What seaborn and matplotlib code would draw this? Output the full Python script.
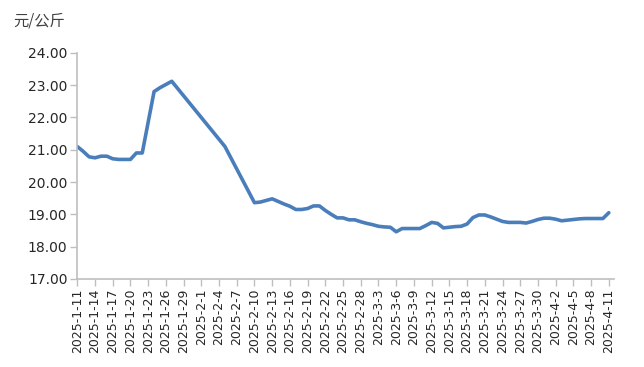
import pandas as pd
import numpy as np
import matplotlib
matplotlib.use('Agg')
import matplotlib.pyplot as plt
import seaborn as sns

########################### DATA ###################################################

dates = ['2025-01-11', '2025-01-12', '2025-01-13', '2025-01-14', '2025-01-15', '2025-01-16',
         '2025-01-17', '2025-01-18', '2025-01-19', '2025-01-20', '2025-01-21', '2025-01-22',
         '2025-01-24', '2025-01-25', '2025-01-26', '2025-01-27',
         '2025-02-05',
         '2025-02-10', '2025-02-11', '2025-02-13', '2025-02-14', '2025-02-15', '2025-02-16',
         '2025-02-17', '2025-02-18', '2025-02-19', '2025-02-20', '2025-02-21', '2025-02-22',
         '2025-02-23', '2025-02-24', '2025-02-25', '2025-02-26', '2025-02-27', '2025-02-28',
         '2025-03-01', '2025-03-02', '2025-03-03', '2025-03-04', '2025-03-05', '2025-03-06',
         '2025-03-07', '2025-03-08', '2025-03-09', '2025-03-10', '2025-03-11', '2025-03-12',
         '2025-03-13', '2025-03-14', '2025-03-15', '2025-03-16', '2025-03-17', '2025-03-18',
         '2025-03-19', '2025-03-20', '2025-03-21', '2025-03-22', '2025-03-23', '2025-03-24',
         '2025-03-25', '2025-03-26', '2025-03-27', '2025-03-28', '2025-03-29', '2025-03-30',
         '2025-03-31', '2025-04-01', '2025-04-02', '2025-04-03', '2025-04-04', '2025-04-05',
         '2025-04-06', '2025-04-07', '2025-04-08', '2025-04-09', '2025-04-10', '2025-04-11']

prices = [21.10, 20.95, 20.78, 20.75, 20.80, 20.80,
          20.72, 20.70, 20.70, 20.70, 20.90, 20.90,
          22.80, 22.92, 23.02, 23.12,
          21.10,
          19.36, 19.38, 19.48, 19.40, 19.32, 19.25,
          19.15, 19.15, 19.18, 19.26, 19.26, 19.12,
          19.00, 18.89, 18.89, 18.83, 18.83, 18.77,
          18.72, 18.68, 18.63, 18.61, 18.60, 18.46,
          18.56, 18.56, 18.56, 18.56, 18.65, 18.75,
          18.72, 18.58, 18.60, 18.62, 18.63, 18.70,
          18.90, 18.98, 18.98, 18.92, 18.85, 18.78,
          18.75, 18.75, 18.75, 18.73, 18.78, 18.84,
          18.88, 18.88, 18.85, 18.80, 18.82, 18.84,
          18.86, 18.87, 18.87, 18.87, 18.87, 19.05]

unit_label = '元/公斤'
y_ticks = [17, 18, 19, 20, 21, 22, 23, 24]

########################### PLOT ###################################################

df = pd.DataFrame({'date': pd.to_datetime(dates), 'price': prices})

sns.set_style('white')
plt.rcParams['font.family'] = ['Noto Sans CJK SC', 'DejaVu Sans']

fig = plt.figure(figsize=(6.44, 3.67), dpi=100)
ax = fig.add_axes([0.12, 0.24, 0.833, 0.616])

sns.lineplot(data=df, x='date', y='price', ax=ax, color='#4A7EBB', linewidth=2.6)

# tick every 3 days, labels like 2025-1-11
tick_dates = pd.date_range(df.date.min(), df.date.max(), freq='3D')
ax.set_xticks(tick_dates)
ax.set_xticklabels([f'{d.year}-{d.month}-{d.day}' for d in tick_dates],
                   rotation=90, fontsize=9, color='#262626', family='DejaVu Sans')
ax.set_xlim(df.date.min(), df.date.max() + pd.Timedelta(hours=20))

ax.set_ylim(17, 24)
ax.set_yticks(y_ticks)
ax.set_yticklabels([f'{v:.2f}' for v in y_ticks], fontsize=10, color='#262626',
                   family='DejaVu Sans')

ax.set_xlabel('')
ax.set_ylabel('')

for side in ['top', 'right']:
    ax.spines[side].set_visible(False)
for side in ['left', 'bottom']:
    ax.spines[side].set_color('#BFBFBF')
    ax.spines[side].set_linewidth(1.2)

ax.tick_params(axis='both', which='major', direction='out', length=5,
               color='#BFBFBF', width=1, pad=2)
ax.tick_params(axis='x', bottom=True)
ax.tick_params(axis='y', left=True)

fig.text(0.02, 0.93, unit_label, fontsize=11, color='#404040')

fig.savefig('out.png', dpi=100)
